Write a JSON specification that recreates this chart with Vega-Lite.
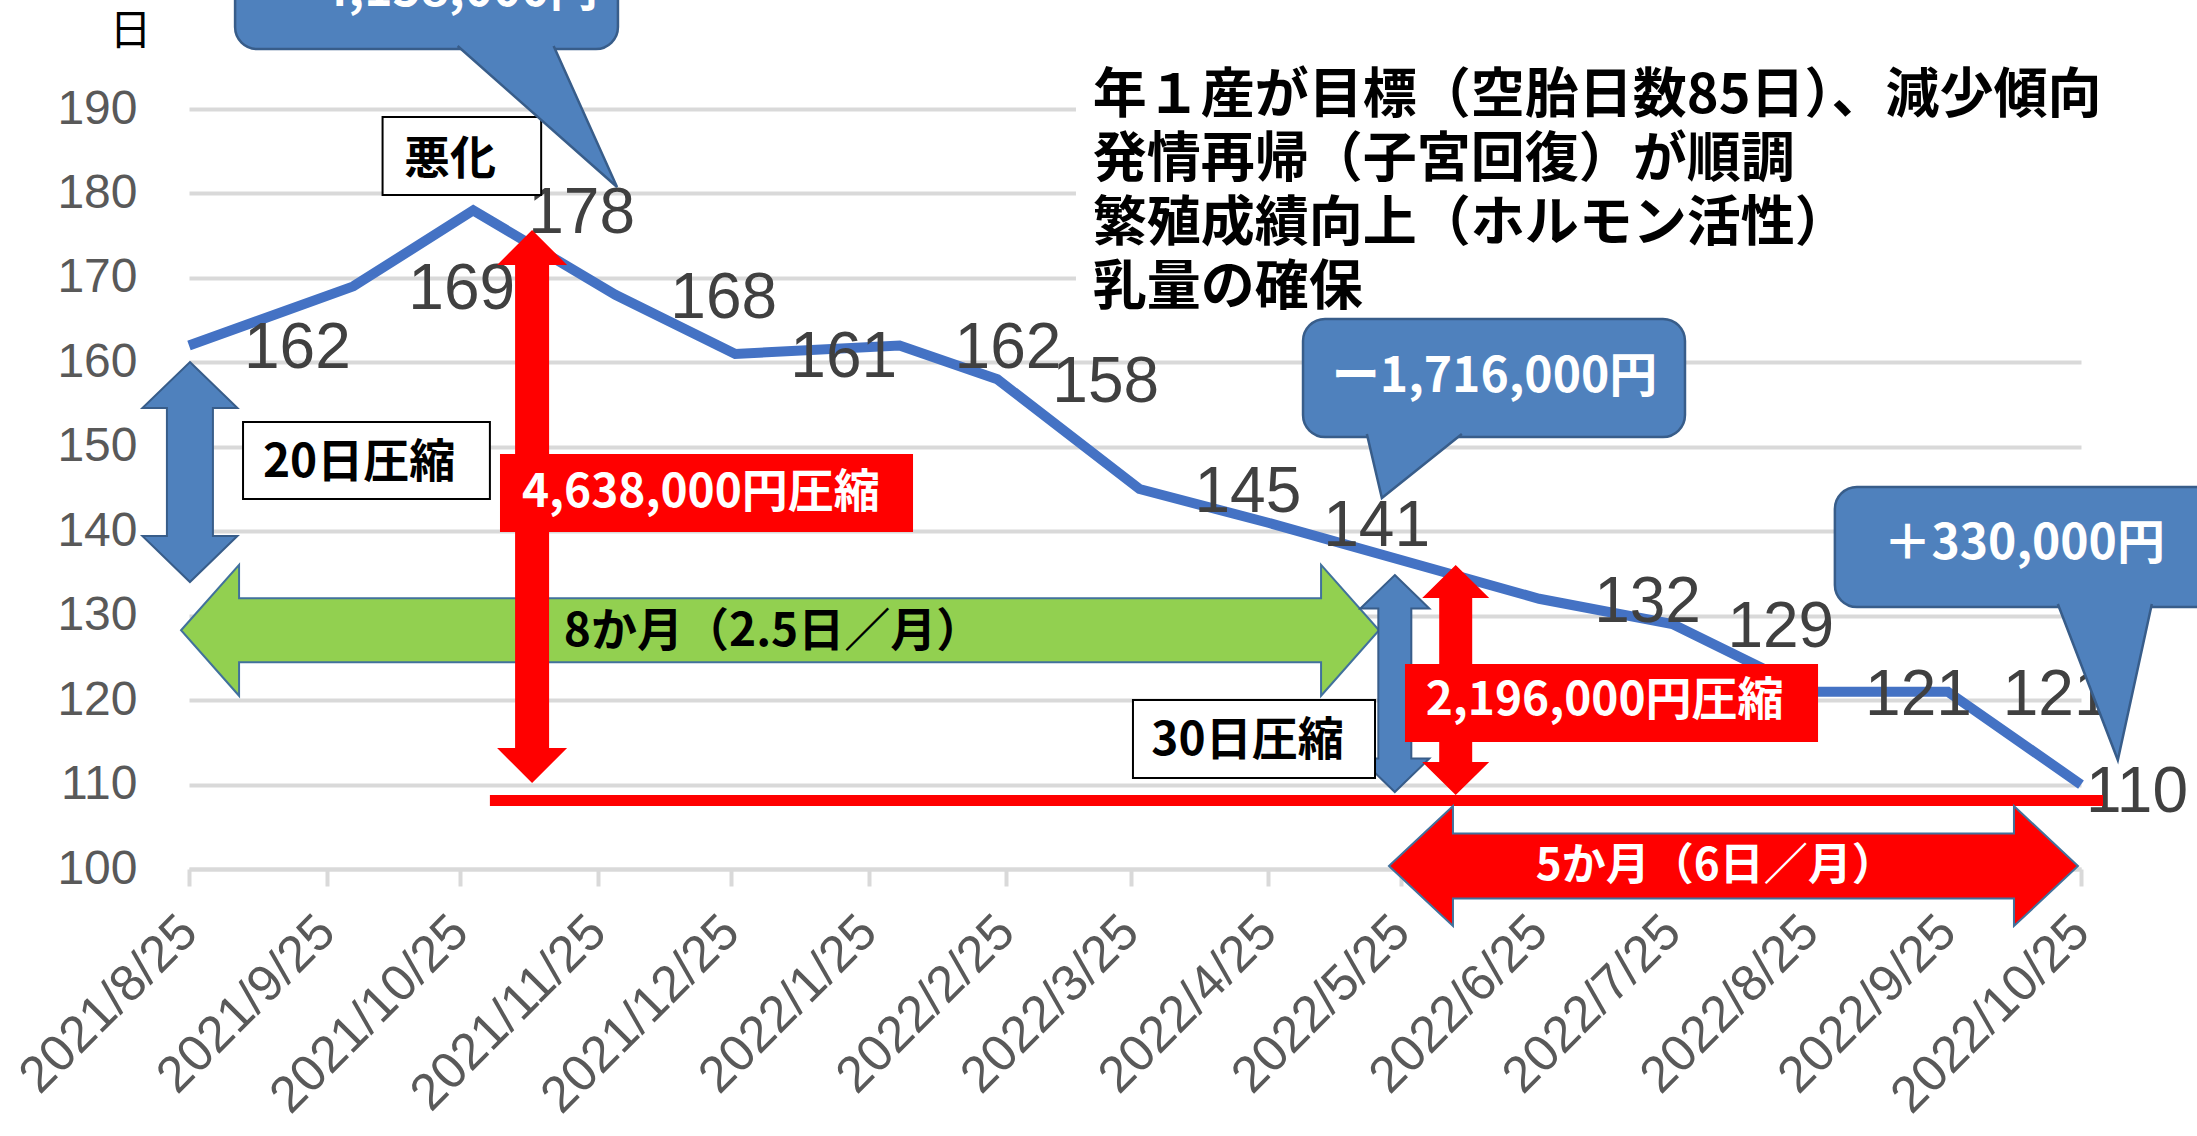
{
  "$schema": "https://vega.github.io/schema/vega-lite/v6.json",
  "width": 1892,
  "height": 760,
  "autosize": {"type": "none"},
  "padding": {"left": 189, "top": 109, "right": 116, "bottom": 267},
  "background": "white",
  "config": {"view": {"stroke": null}, "font": "Liberation Sans"},
  "encoding": {
    "x": {
      "field": "date",
      "type": "temporal",
      "scale": {
        "type": "utc",
        "domain": [{"year": 2021, "month": 8, "date": 25, "utc": true}, {"year": 2022, "month": 10, "date": 25, "utc": true}],
        "nice": false
      },
      "axis": {
        "title": null,
        "values": [
          {"year": 2021, "month": 8, "date": 25, "utc": true},
          {"year": 2021, "month": 9, "date": 25, "utc": true},
          {"year": 2021, "month": 10, "date": 25, "utc": true},
          {"year": 2021, "month": 11, "date": 25, "utc": true},
          {"year": 2021, "month": 12, "date": 25, "utc": true},
          {"year": 2022, "month": 1, "date": 25, "utc": true},
          {"year": 2022, "month": 2, "date": 25, "utc": true},
          {"year": 2022, "month": 3, "date": 25, "utc": true},
          {"year": 2022, "month": 4, "date": 25, "utc": true},
          {"year": 2022, "month": 5, "date": 25, "utc": true},
          {"year": 2022, "month": 6, "date": 25, "utc": true},
          {"year": 2022, "month": 7, "date": 25, "utc": true},
          {"year": 2022, "month": 8, "date": 25, "utc": true},
          {"year": 2022, "month": 9, "date": 25, "utc": true},
          {"year": 2022, "month": 10, "date": 25, "utc": true}
        ],
        "format": "%Y/%-m/%-d",
        "labelAngle": -45,
        "labelAlign": "right",
        "labelBaseline": "middle",
        "labelFont": "Liberation Sans",
        "labelFontSize": 51,
        "labelColor": "#595959",
        "labelPadding": 38,
        "labelLimit": 600,
        "labelOverlap": false,
        "labelFlush": false,
        "labelBound": false,
        "grid": false,
        "domainColor": "#d9d9d9",
        "domainWidth": 4,
        "tickColor": "#d9d9d9",
        "tickWidth": 4,
        "tickSize": 17
      }
    },
    "y": {
      "field": "value",
      "type": "quantitative",
      "scale": {"domain": [100, 190], "nice": false, "zero": false},
      "axis": {
        "title": "日",
        "titleAngle": 0,
        "titleX": -59,
        "titleY": -78,
        "titleAlign": "center",
        "titleBaseline": "middle",
        "titleFont": "Noto Sans CJK JP",
        "titleFontSize": 42,
        "titleFontWeight": "normal",
        "titleColor": "#000000",
        "values": [100, 110, 120, 130, 140, 150, 160, 170, 180, 190],
        "grid": true,
        "gridColor": "#d9d9d9",
        "gridWidth": 4,
        "domain": false,
        "ticks": false,
        "labelFont": "Liberation Sans",
        "labelFontSize": 48,
        "labelColor": "#595959",
        "labelPadding": 52
      }
    }
  },
  "layer": [
    {
      "data": {"values": [{"date": "2022-03-12T17:00Z", "date2": "2022-10-31T13:00Z", "value": 204.1, "value2": 167.38}]},
      "mark": {"type": "rect", "fill": "#ffffff", "stroke": null},
      "encoding": {"x2": {"field": "date2"}, "y2": {"field": "value2"}}
    },
    {
      "data": {"values": [{"date": "2022-03-16T12:00Z", "value": 194.6, "label": "年１産が目標（空胎日数85日）、減少傾向\n発情再帰（子宮回復）が順調\n繁殖成績向上（ホルモン活性）\n乳量の確保"}]},
      "mark": {"type": "text", "align": "left", "baseline": "top", "lineBreak": "\n", "lineHeight": 64, "font": "Noto Sans CJK JP", "fontWeight": "bold", "fontSize": 54, "color": "#000000"},
      "encoding": {"text": {"field": "label"}}
    },
    {
      "data": {"name": "series", "values": [
        {"date": "2021-08-25", "value": 162},
        {"date": "2021-10-01", "value": 169},
        {"date": "2021-10-28", "value": 178},
        {"date": "2021-11-29", "value": 168},
        {"date": "2021-12-26", "value": 161},
        {"date": "2022-02-01", "value": 162},
        {"date": "2022-02-23", "value": 158},
        {"date": "2022-03-27", "value": 145},
        {"date": "2022-04-25", "value": 141},
        {"date": "2022-06-25", "value": 132},
        {"date": "2022-07-25", "value": 129},
        {"date": "2022-08-25", "value": 121},
        {"date": "2022-09-25", "value": 121},
        {"date": "2022-10-25", "value": 110}
      ]},
      "layer": [
        {"mark": {"type": "line", "color": "#4472C4", "strokeWidth": 10}},
        {
          "transform": [{"filter": "datum.value !== 110"}],
          "mark": {"type": "text", "align": "left", "baseline": "middle", "dx": 55, "dy": 4, "font": "Liberation Sans", "fontSize": 64, "color": "#404040"},
          "encoding": {"text": {"field": "value", "type": "quantitative"}}
        },
        {
          "transform": [{"filter": "datum.value === 110"}],
          "mark": {"type": "text", "align": "left", "baseline": "middle", "dx": 5, "dy": 8, "font": "Liberation Sans", "fontSize": 64, "color": "#404040"},
          "encoding": {"text": {"field": "value", "type": "quantitative"}}
        }
      ]
    },
    {
      "data": {"values": [{"date": "2022-01-05T02:00Z", "value": 128.27}]},
      "mark": {"type": "point", "shape": "M -5.99 0 L -5.41 -0.655 L -5.41 -0.32 L 5.41 -0.32 L 5.41 -0.655 L 5.99 0 L 5.41 0.655 L 5.41 0.32 L -5.41 0.32 L -5.41 0.655 Z", "size": 40000, "filled": true, "fill": "#92D050", "stroke": "#41719C", "strokeWidth": 2, "opacity": 1}
    },
    {
      "data": {"values": [{"date": "2021-11-10T06:00Z", "value": 142.93}]},
      "mark": {"type": "point", "shape": "M 0 -2.765 L 0.35 -2.415 L 0.17 -2.415 L 0.17 2.415 L 0.35 2.415 L 0 2.765 L -0.35 2.415 L -0.17 2.415 L -0.17 -2.415 L -0.35 -2.415 Z", "size": 40000, "filled": true, "fill": "#FF0000", "strokeWidth": 0, "opacity": 1}
    },
    {
      "data": {"values": [{"date": "2021-08-25T05:00Z", "value": 147.01}]},
      "mark": {"type": "point", "shape": "M 0 -1.1 L 0.475 -0.64 L 0.23 -0.64 L 0.23 0.64 L 0.475 0.64 L 0 1.1 L -0.475 0.64 L -0.23 0.64 L -0.23 -0.64 L -0.475 -0.64 Z", "size": 40000, "filled": true, "fill": "#4F81BD", "stroke": "#385D8A", "strokeWidth": 2, "opacity": 1}
    },
    {
      "data": {"values": [{"date": "2022-05-23T12:00Z", "value": 121.96}]},
      "mark": {"type": "point", "shape": "M 0 -1.085 L 0.345 -0.75 L 0.165 -0.75 L 0.165 0.75 L 0.345 0.75 L 0 1.085 L -0.345 0.75 L -0.165 0.75 L -0.165 -0.75 L -0.345 -0.75 Z", "size": 40000, "filled": true, "fill": "#4F81BD", "stroke": "#385D8A", "strokeWidth": 2, "opacity": 1}
    },
    {
      "data": {"values": [{"date": "2022-06-06T05:00Z", "value": 122.38}]},
      "mark": {"type": "point", "shape": "M 0 -1.15 L 0.335 -0.82 L 0.165 -0.82 L 0.165 0.82 L 0.335 0.82 L 0 1.15 L -0.335 0.82 L -0.165 0.82 L -0.165 -0.82 L -0.335 -0.82 Z", "size": 40000, "filled": true, "fill": "#FF0000", "strokeWidth": 0, "opacity": 1}
    },
    {
      "data": {"values": [
        {"date": "2021-11-03T00:30Z", "date2": "2022-02-04T00:30Z", "value": 149.14, "value2": 139.91},
        {"date": "2022-05-25T19:00Z", "date2": "2022-08-26T19:00Z", "value": 124.27, "value2": 115.04}
      ]},
      "mark": {"type": "rect", "fill": "#FF0000", "stroke": null},
      "encoding": {"x2": {"field": "date2"}, "y2": {"field": "value2"}}
    },
    {
      "data": {"values": [
        {"date": "2021-10-07T14:00Z", "date2": "2021-11-12T07:00Z", "value": 189.05, "value2": 179.82},
        {"date": "2021-09-06T04:00Z", "date2": "2021-10-31T18:00Z", "value": 152.93, "value2": 143.81},
        {"date": "2022-03-25T13:00Z", "date2": "2022-05-19T01:00Z", "value": 120.01, "value2": 110.77}
      ]},
      "mark": {"type": "rect", "fill": "#ffffff", "stroke": "#000000", "strokeWidth": 2},
      "encoding": {"x2": {"field": "date2"}, "y2": {"field": "value2"}}
    },
    {
      "data": {"values": [{"date": "2021-10-31T18:00Z", "date2": "2022-10-29T23:00Z", "value": 108.11}]},
      "mark": {"type": "rule", "color": "#FF0000", "strokeWidth": 11},
      "encoding": {"x2": {"field": "date2"}}
    },
    {
      "data": {"values": [{"date": "2022-08-07T18:00Z", "value": 100.35}]},
      "mark": {"type": "point", "shape": "M -3.445 0 L -2.805 -0.6 L -2.805 -0.325 L 2.805 -0.325 L 2.805 -0.6 L 3.445 0 L 2.805 0.6 L 2.805 0.325 L -2.805 0.325 L -2.805 0.6 Z", "size": 40000, "filled": true, "fill": "#FF0000", "stroke": "#41719C", "strokeWidth": 2, "opacity": 1}
    },
    {
      "data": {"values": [
        {"date": "2021-09-04T09:00Z", "date2": "2021-11-29T14:00Z", "value": 211.08, "value2": 197.1},
        {"date": "2022-05-02T20:00Z", "date2": "2022-07-27T20:00Z", "value": 165.13, "value2": 151.16},
        {"date": "2022-08-30T14:00Z", "date2": "2022-11-28T13:00Z", "value": 145.24, "value2": 131.02}
      ]},
      "mark": {"type": "rect", "fill": "#4F81BD", "stroke": "#385D8A", "strokeWidth": 2.5, "cornerRadius": 22},
      "encoding": {"x2": {"field": "date2"}, "y2": {"field": "value2"}}
    },
    {
      "data": {"values": [{"date": "2021-11-29T09:00Z", "value": 180.76}]},
      "mark": {"type": "point", "shape": "M -1.594 -1.41 L 0 0 L -0.634 -1.41", "size": 40000, "filled": true, "fill": "#4F81BD", "stroke": "#385D8A", "strokeWidth": 2.5, "opacity": 1}
    },
    {
      "data": {"values": [{"date": "2022-05-20T14:00Z", "value": 143.93}]},
      "mark": {"type": "point", "shape": "M -0.15 -0.64 L 0 0 L 0.8 -0.64", "size": 40000, "filled": true, "fill": "#4F81BD", "stroke": "#385D8A", "strokeWidth": 2.5, "opacity": 1}
    },
    {
      "data": {"values": [{"date": "2022-11-02T07:00Z", "value": 112.9}]},
      "mark": {"type": "point", "shape": "M -0.6 -1.56 L 0 0 L 0.34 -1.56", "size": 40000, "filled": true, "fill": "#4F81BD", "stroke": "#385D8A", "strokeWidth": 2.5, "opacity": 1}
    },
    {
      "data": {"values": [
        {"date": "2021-10-22T18:00Z", "value": 183.96, "label": "悪化"},
        {"date": "2021-10-02T07:00Z", "value": 148.02, "label": "20日圧縮"},
        {"date": "2022-04-20T08:00Z", "value": 115.15, "label": "30日圧縮"},
        {"date": "2022-01-03T12:00Z", "value": 128.06, "label": "8か月（2.5日／月）"}
      ]},
      "mark": {"type": "text", "align": "center", "baseline": "middle", "font": "Noto Sans CJK JP", "fontWeight": "bold", "fontSize": 46, "color": "#000000"},
      "encoding": {"text": {"field": "label"}}
    },
    {
      "data": {"values": [
        {"date": "2021-12-18T06:00Z", "value": 144.52, "label": "4,638,000円圧縮"},
        {"date": "2022-07-09T18:00Z", "value": 119.89, "label": "2,196,000円圧縮"}
      ]},
      "mark": {"type": "text", "align": "center", "baseline": "middle", "font": "Noto Sans CJK JP", "fontWeight": "bold", "fontSize": 46, "color": "#ffffff"},
      "encoding": {"text": {"field": "label"}}
    },
    {
      "data": {"values": [{"date": "2022-08-03T18:00Z", "value": 100.23, "label": "5か月（6日／月）"}]},
      "mark": {"type": "text", "align": "center", "baseline": "middle", "font": "Noto Sans CJK JP", "fontWeight": "bold", "fontSize": 44, "color": "#ffffff"},
      "encoding": {"text": {"field": "label"}}
    },
    {
      "data": {"values": [
        {"date": "2021-10-19T09:00Z", "value": 203.86, "label": "ー4,158,000円"},
        {"date": "2022-06-14T23:00Z", "value": 158.14, "label": "ー1,716,000円"},
        {"date": "2022-10-12T05:00Z", "value": 138.37, "label": "＋330,000円"}
      ]},
      "mark": {"type": "text", "align": "center", "baseline": "middle", "font": "Noto Sans CJK JP", "fontWeight": "bold", "fontSize": 48, "color": "#ffffff"},
      "encoding": {"text": {"field": "label"}}
    }
  ]
}
